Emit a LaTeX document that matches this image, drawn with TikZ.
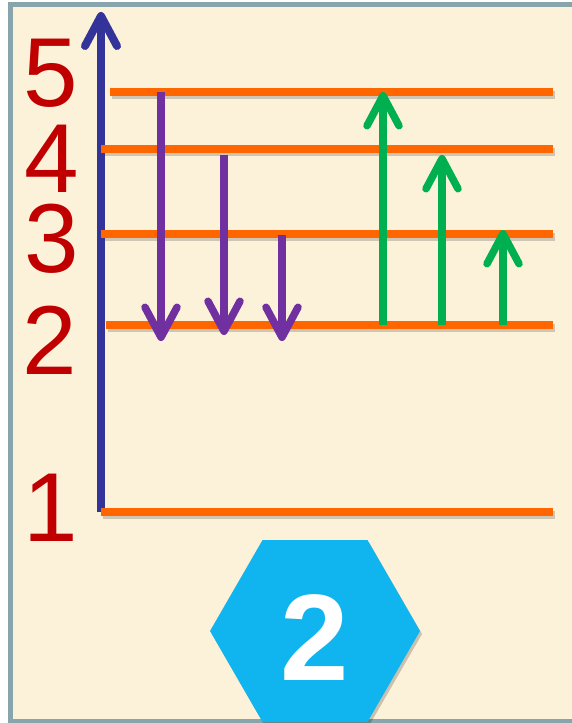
\documentclass[tikz,border=0pt]{standalone}
\usepackage{fontspec}
\setmainfont{Liberation Sans}
\usetikzlibrary{arrows.meta,shapes.geometric}
\definecolor{cream}{RGB}{252,242,218}
\definecolor{frame}{RGB}{135,165,170}
\definecolor{axisblue}{RGB}{51,51,153}
\definecolor{lvlorange}{RGB}{255,102,0}
\definecolor{downpurple}{RGB}{112,48,160}
\definecolor{upgreen}{RGB}{0,176,80}
\definecolor{labred}{RGB}{192,0,0}
\definecolor{hexblue}{RGB}{16,181,240}
\tikzset{
  level/.style={draw=lvlorange, line width=7.5pt},
  lvlshadow/.style={draw=black, opacity=0.18, line width=7.5pt},
  axisarrow/.style={draw=axisblue, line width=8pt, -{Straight Barb[round,length=30pt,width=32pt]}},
  downarrow/.style={draw=downpurple, line width=7.5pt, -{Straight Barb[round,length=30pt,width=32pt]}},
  uparrow/.style={draw=upgreen, line width=7.5pt, -{Straight Barb[round,length=30pt,width=32pt]}},
  lab/.style={text=labred, font=\fontsize{98}{98}\selectfont, anchor=base, inner sep=0pt},
  hexa/.style={regular polygon, regular polygon sides=6, minimum size=210pt, inner sep=0pt, fill=hexblue},
  hexnum/.style={text=white, font=\bfseries\fontsize{123}{123}\selectfont, anchor=base, inner sep=0pt}
}
\begin{document}
\begin{tikzpicture}[x=1pt,y=-1pt]
\useasboundingbox (0,0) rectangle (571,723);
% background and frame
\fill[cream] (10.5,4.5) rectangle (575,721);
\draw[frame, line width=5pt] (575,4.5) -- (10.5,4.5) -- (10.5,721) -- (575,721);
% coordinates
\coordinate (axB) at (101,512);
\coordinate (axT) at (101,12);
\coordinate (L5a) at (110,92);  \coordinate (L5b) at (553,92);
\coordinate (L4a) at (101,149); \coordinate (L4b) at (553,149);
\coordinate (L3a) at (101,234); \coordinate (L3b) at (553,234);
\coordinate (L2a) at (106,325); \coordinate (L2b) at (553,325);
\coordinate (L1a) at (101,512); \coordinate (L1b) at (553,512);
% level shadows
\foreach \a/\b in {L5a/L5b,L4a/L4b,L3a/L3b,L2a/L2b,L1a/L1b}
  \draw[lvlshadow] ([shift={(2,3)}]\a) -- ([shift={(2,3)}]\b);
% axis
\draw[axisarrow] (axB) -- (axT);
% levels
\foreach \a/\b in {L5a/L5b,L4a/L4b,L3a/L3b,L2a/L2b,L1a/L1b}
  \draw[level] (\a) -- (\b);
% emission arrows
\coordinate (d1s) at (161,92);  \coordinate (d1e) at (161,341);
\coordinate (d2s) at (224,155); \coordinate (d2e) at (224,335);
\coordinate (d3s) at (282,235); \coordinate (d3e) at (282,341);
\draw[downarrow] (d1s) -- (d1e);
\draw[downarrow] (d2s) -- (d2e);
\draw[downarrow] (d3s) -- (d3e);
% absorption arrows
\coordinate (u1s) at (383,325); \coordinate (u1e) at (383,92);
\coordinate (u2s) at (442,325); \coordinate (u2e) at (442,155);
\coordinate (u3s) at (503,325); \coordinate (u3e) at (503,230);
\draw[uparrow] (u1s) -- (u1e);
\draw[uparrow] (u2s) -- (u2e);
\draw[uparrow] (u3s) -- (u3e);
% labels
\node[lab] (n5) at (51,106) {5};
\node[lab] (n4) at (52,192) {4};
\node[lab] (n3) at (52,272) {3};
\node[lab] (n2) at (50,374) {2};
\node[lab] (n1) at (51,541) {1};
% hexagon
\node[hexa, fill=black, opacity=0.2] (hexsh) at (317,634) {};
\node[hexa] (hex) at (315,631) {};
\node[hexnum] (hexlabel) at (315,680) {2};
\end{tikzpicture}
\end{document}
